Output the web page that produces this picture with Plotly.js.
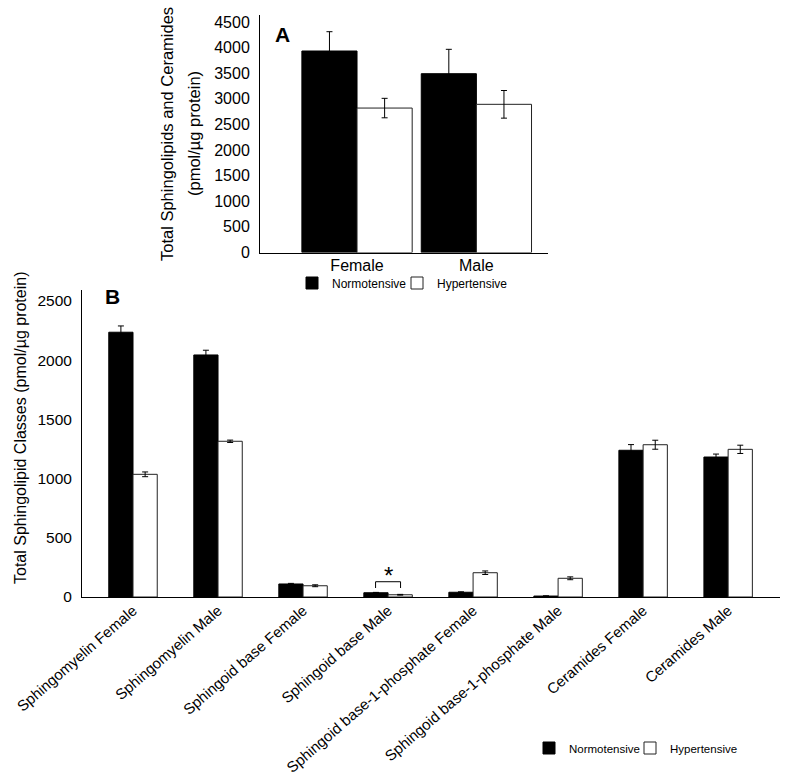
<!DOCTYPE html>
<html>
<head>
<meta charset="utf-8">
<script src="https://cdn.plot.ly/plotly-3.0.1.min.js"></script>
<style>html,body{margin:0;padding:0;background:#fff;overflow:hidden;}#chart{width:800px;height:781px;overflow:hidden;}</style>
</head>
<body>
<div id="chart"></div>
<script>
// Panel A data
const catsA = ['Female', 'Male'];
const normA = [3934, 3491];
const normAerr = [377, 476];
const hypA = [2820, 2893];
const hypAerr = [190, 270];

// Panel B data
const catsB = ['Sphingomyelin Female', 'Sphingomyelin Male', 'Sphingoid base Female', 'Sphingoid base Male',
  'Sphingoid base-1-phosphate Female', 'Sphingoid base-1-phosphate Male', 'Ceramides Female', 'Ceramides Male'];
const normB = [2236, 2044, 110, 36, 40, 8, 1239, 1182];
const normBerr = [53, 40, 5, 3, 4, 2, 48, 25];
const hypB = [1036, 1315, 95, 19, 205, 158, 1286, 1247];
const hypBerr = [20, 10, 8, 3, 15, 12, 38, 35];

const tickValsA = [0, 500, 1000, 1500, 2000, 2500, 3000, 3500, 4000, 4500];
const tickValsB = [0, 500, 1000, 1500, 2000, 2500];

const font = 'Liberation Sans, Arial, sans-serif';
const W = 800, H = 781;
const px = v => v / W;
const py = v => 1 - v / H;

const errStyle = {type: 'data', visible: true, color: '#000', thickness: 1, width: 3};
const wA = 0.462, wB = 0.285;

const traces = [
  {type: 'bar', x: catsA, y: normA, name: 'Normotensive', xaxis: 'x', yaxis: 'y', legend: 'legend',
   width: wA, offset: -wA,
   marker: {color: '#000', line: {color: '#000', width: 1}},
   error_y: Object.assign({array: normAerr}, errStyle)},
  {type: 'bar', x: catsA, y: hypA, name: 'Hypertensive', xaxis: 'x', yaxis: 'y', legend: 'legend3',
   width: wA, offset: 0,
   marker: {color: '#fff', line: {color: '#222', width: 1}},
   error_y: Object.assign({array: hypAerr}, errStyle)},
  {type: 'bar', x: catsB, y: normB, name: 'Normotensive', xaxis: 'x2', yaxis: 'y2', legend: 'legend2',
   width: wB, offset: -wB,
   marker: {color: '#000', line: {color: '#000', width: 1}},
   error_y: Object.assign({array: normBerr}, errStyle)},
  {type: 'bar', x: catsB, y: hypB, name: 'Hypertensive', xaxis: 'x2', yaxis: 'y2', legend: 'legend4',
   width: wB, offset: 0,
   marker: {color: '#fff', line: {color: '#222', width: 1}},
   error_y: Object.assign({array: hypBerr}, errStyle)}
];

const legA = {orientation: 'h', y: py(283), xanchor: 'left', yanchor: 'middle',
  font: {size: 12}, bgcolor: 'rgba(0,0,0,0)', itemwidth: 30};
const legB = {orientation: 'h', y: py(748), xanchor: 'left', yanchor: 'middle',
  font: {size: 11.5}, bgcolor: 'rgba(0,0,0,0)', itemwidth: 30};

const sbIdx = 3; // Sphingoid base Male
const layout = {
  width: W, height: H,
  margin: {l: 0, r: 0, t: 0, b: 0},
  paper_bgcolor: '#fff', plot_bgcolor: '#fff',
  font: {family: font, color: '#000', size: 16},
  barmode: 'overlay',
  showlegend: true,
  xaxis: {domain: [px(260), px(548)], anchor: 'y', type: 'category', range: [-0.813, 1.6],
    showline: true, linecolor: '#000', linewidth: 1, ticks: '', showgrid: false, zeroline: false,
    tickfont: {size: 16}, ticklabelstandoff: -2, automargin: false, fixedrange: true},
  yaxis: {domain: [py(252.5), py(15)], anchor: 'x', range: [0, 4637],
    tickvals: tickValsA, ticktext: tickValsA.map(String),
    showline: true, linecolor: '#000', linewidth: 1, ticks: '', showgrid: false, zeroline: false,
    tickfont: {size: 16}, ticklabelstandoff: 6, automargin: false},
  xaxis2: {domain: [px(82), px(780)], anchor: 'y2', type: 'category', range: [-0.6, 7.61],
    showline: true, linecolor: '#000', linewidth: 1, ticks: '', showgrid: false, zeroline: false,
    tickfont: {size: 15}, tickangle: -41, ticklabelstandoff: -2, automargin: false},
  yaxis2: {domain: [py(597), py(290.3)], anchor: 'x2', range: [0, 2590],
    tickvals: tickValsB, ticktext: tickValsB.map(String),
    showline: true, linecolor: '#000', linewidth: 1, ticks: '', showgrid: false, zeroline: false,
    tickfont: {size: 15.5}, ticklabelstandoff: 6, automargin: false},
  legend: Object.assign({x: px(292)}, legA),
  legend3: Object.assign({x: px(397)}, legA),
  legend2: Object.assign({x: px(529)}, legB),
  legend4: Object.assign({x: px(630)}, legB),
  annotations: [
    {text: 'Total Sphingolipids and Ceramides', xref: 'paper', yref: 'paper',
     x: px(167), y: py(134), showarrow: false, textangle: -90, font: {size: 16.5},
     xanchor: 'center', yanchor: 'middle'},
    {text: '(pmol/µg protein)', xref: 'paper', yref: 'paper',
     x: px(194), y: py(134), showarrow: false, textangle: -90, font: {size: 16.5},
     xanchor: 'center', yanchor: 'middle'},
    {text: '<b>A</b>', xref: 'paper', yref: 'paper', x: px(282), y: py(34.5), showarrow: false,
     font: {size: 21}, xanchor: 'center', yanchor: 'middle'},
    {text: '<b>B</b>', xref: 'paper', yref: 'paper', x: px(112), y: py(296), showarrow: false,
     font: {size: 21}, xanchor: 'center', yanchor: 'middle'},
    {text: 'Total Sphingolipid Classes (pmol/µg protein)', xref: 'paper', yref: 'paper',
     x: px(20), y: py(428), showarrow: false, textangle: -90, font: {size: 16},
     xanchor: 'center', yanchor: 'middle'},
    {text: '*', xref: 'x2', yref: 'y2', x: sbIdx, y: 129, showarrow: false,
     font: {size: 24}, xanchor: 'center', yanchor: 'bottom', yshift: -9}
  ],
  shapes: [
    {type: 'path', xref: 'x2', yref: 'y2',
     path: 'M ' + (sbIdx - 0.147) + ',76 L ' + (sbIdx - 0.147) + ',129 L ' + (sbIdx + 0.147) + ',129 L ' + (sbIdx + 0.147) + ',76',
     line: {color: '#000', width: 1}}
  ]
};

Plotly.newPlot('chart', traces, layout, {displayModeBar: false, staticPlot: true});
</script>
</body>
</html>
